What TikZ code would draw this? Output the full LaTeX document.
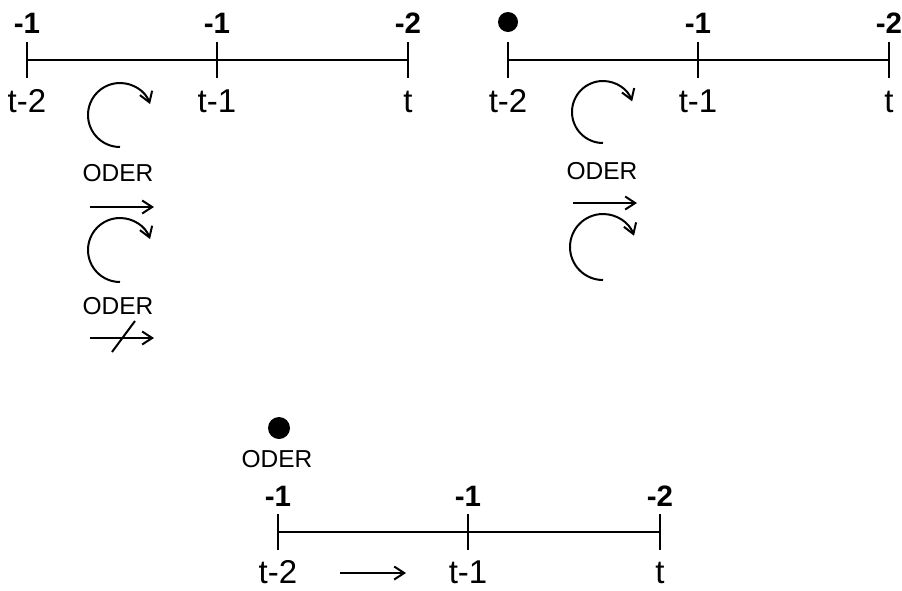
\documentclass[tikz,border=0pt]{standalone}
\usepackage{fontspec}
\setmainfont{Liberation Sans}
\usetikzlibrary{arrows.meta}
\begin{document}
\begin{tikzpicture}[x=1pt,y=-1pt,line width=2pt,
  lbl/.style={font=\fontsize{33}{35}\selectfont,anchor=base,inner sep=0pt},
  wt/.style={font=\bfseries\fontsize{29.5}{31}\selectfont,anchor=base,inner sep=0pt},
  od/.style={font=\fontsize{24.5}{26}\selectfont,anchor=base,inner sep=0pt},
  arr/.style={-{Straight Barb[length=10pt,width=13pt]}}]
\useasboundingbox (0,0) rectangle (902,590);
% ---------- top-left timeline ----------
\coordinate (a0) at (27,60);
\coordinate (a1) at (217,60);
\coordinate (a2) at (408,60);
\draw (a0) -- (a2);
\foreach \c in {a0,a1,a2}{\draw ([yshift=18pt]\c) -- ([yshift=-18pt]\c);}
\node[wt] (a0w) at (27,33) {-1};
\node[wt] (a1w) at (217,33) {-1};
\node[wt] (a2w) at (408,33) {-2};
\node[lbl] (a0t) at (27,112) {t-2};
\node[lbl] (a1t) at (217,112) {t-1};
\node[lbl] (a2t) at (408,112) {t};
% symbols
\draw[arr] (120,147) arc[start angle=90,end angle=340,radius=32];
\node[od] (ao1) at (118,181) {ODER};
\coordinate (aa1s) at (90,207);
\coordinate (aa1e) at (154,207);
\draw[arr] (aa1s) -- (aa1e);
\draw[arr] (120,282) arc[start angle=90,end angle=340,radius=32];
\node[od] (ao2) at (118,314) {ODER};
\coordinate (aa2s) at (90,338);
\coordinate (aa2e) at (154,338);
\draw[arr] (aa2s) -- (aa2e);
\coordinate (ax1) at (112,352);
\coordinate (ax2) at (135,321);
\draw (ax1) -- (ax2);
% ---------- top-right timeline ----------
\coordinate (b0) at (508,60);
\coordinate (b1) at (698,60);
\coordinate (b2) at (889,60);
\draw (b0) -- (b2);
\foreach \c in {b0,b1,b2}{\draw ([yshift=18pt]\c) -- ([yshift=-18pt]\c);}
\fill (508,22) circle[radius=10];
\node[wt] (b1w) at (698,33) {-1};
\node[wt] (b2w) at (889,33) {-2};
\node[lbl] (b0t) at (508,112) {t-2};
\node[lbl] (b1t) at (698,112) {t-1};
\node[lbl] (b2t) at (889,112) {t};
\draw[arr] (603,143) arc[start angle=90,end angle=340,radius=31];
\node[od] (bo1) at (602,179) {ODER};
\coordinate (ba1s) at (573,203);
\coordinate (ba1e) at (637,203);
\draw[arr] (ba1s) -- (ba1e);
\draw[arr] (603,280) arc[start angle=90,end angle=340,radius=33];
% ---------- bottom timeline ----------
\coordinate (c0) at (278,532);
\coordinate (c1) at (468,532);
\coordinate (c2) at (660,532);
\draw (c0) -- (c2);
\foreach \c in {c0,c1,c2}{\draw ([yshift=18pt]\c) -- ([yshift=-18pt]\c);}
\fill (279,428) circle[radius=11];
\node[od] (co) at (277,467) {ODER};
\node[wt] (c0w) at (278,506) {-1};
\node[wt] (c1w) at (468,506) {-1};
\node[wt] (c2w) at (660,506) {-2};
\node[lbl] (c0t) at (278,583) {t-2};
\node[lbl] (c1t) at (468,583) {t-1};
\node[lbl] (c2t) at (660,583) {t};
\coordinate (ca1s) at (340,573);
\coordinate (ca1e) at (406,573);
\draw[arr] (ca1s) -- (ca1e);
\end{tikzpicture}
\end{document}
